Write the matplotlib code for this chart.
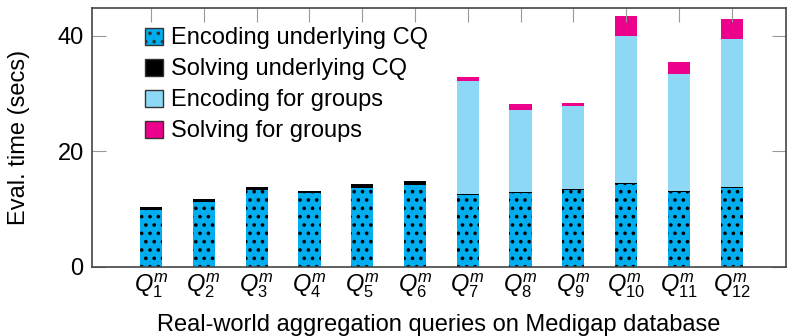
import matplotlib
matplotlib.use("Agg")
import matplotlib.pyplot as plt
import matplotlib.patches as mpatches
import numpy as np

queries = [f"$Q^m_{{{i}}}$" for i in range(1, 13)]
enc_cq = [9.9, 11.2, 13.4, 12.8, 13.7, 14.2, 12.5, 12.8, 13.4, 14.3, 12.9, 13.6]
solve_cq = [0.4, 0.5, 0.45, 0.4, 0.7, 0.6, 0.2, 0.2, 0.15, 0.2, 0.2, 0.2]
enc_grp = [0, 0, 0, 0, 0, 0, 19.4, 14.2, 14.3, 25.4, 20.3, 25.6]
solve_grp = [0, 0, 0, 0, 0, 0, 0.7, 1.0, 0.5, 3.45, 2.15, 3.5]
legend_labels = ['Encoding underlying CQ', 'Solving underlying CQ',
                 'Encoding for groups', 'Solving for groups']

plt.rcParams['font.family'] = ['Liberation Sans', 'DejaVu Sans']
plt.rcParams['mathtext.fontset'] = 'custom'
plt.rcParams['mathtext.it'] = 'Liberation Sans:italic'
plt.rcParams['mathtext.rm'] = 'Liberation Sans'
plt.rcParams['hatch.linewidth'] = 1.4

fig = plt.figure(figsize=(7.87, 3.36), dpi=100)
ax = fig.add_axes([0.117, 0.2054, 0.8817, 0.7706])

x = np.arange(len(queries))
w = 0.42
c_enc = '#00AEEF'
c_solve = '#000000'
c_egrp = '#8DD8F5'
c_sgrp = '#EC008C'

ax.bar(x, enc_cq, w, color=c_enc, edgecolor='black', linewidth=0, hatch='..')
bot = np.array(enc_cq)
ax.bar(x, solve_cq, w, bottom=bot, color=c_solve, linewidth=0)
bot = bot + np.array(solve_cq)
ax.bar(x, enc_grp, w, bottom=bot, color=c_egrp, linewidth=0)
bot = bot + np.array(enc_grp)
ax.bar(x, solve_grp, w, bottom=bot, color=c_sgrp, linewidth=0)

ax.set_xlim(-1.12, 12.03)
ax.set_ylim(0, 44.8)
ax.set_yticks([0, 20, 40])
ax.set_xticks(x)
ax.set_xticklabels(queries)
ax.tick_params(axis='y', direction='in', length=10, color='#999999', labelsize=17, right=True, pad=6)
ax.tick_params(axis='x', direction='in', top=True, bottom=False, length=10, color='#999999',
               labelsize=17, pad=3)
for s in ax.spines.values():
    s.set_color('#444444')
    s.set_linewidth(1.2)

ax.set_ylabel('Eval. time (secs)', fontsize=17, labelpad=20)
ax.set_xlabel('Real-world aggregation queries on Medigap database', fontsize=17, labelpad=10)

handles = [
    mpatches.Patch(facecolor=c_enc, edgecolor='#333333', hatch='..', linewidth=1),
    mpatches.Patch(facecolor=c_solve, edgecolor='#333333', linewidth=1),
    mpatches.Patch(facecolor=c_egrp, edgecolor='#333333', linewidth=1),
    mpatches.Patch(facecolor=c_sgrp, edgecolor='#333333', linewidth=1),
]
ax.legend(handles, legend_labels, loc='upper left', bbox_to_anchor=(0.076, 0.925), frameon=False,
          fontsize=17, handlelength=0.75, handleheight=0.75, handletextpad=0.35,
          labelspacing=0.38, borderaxespad=0, borderpad=0)

fig.savefig('out.png', dpi=100)
